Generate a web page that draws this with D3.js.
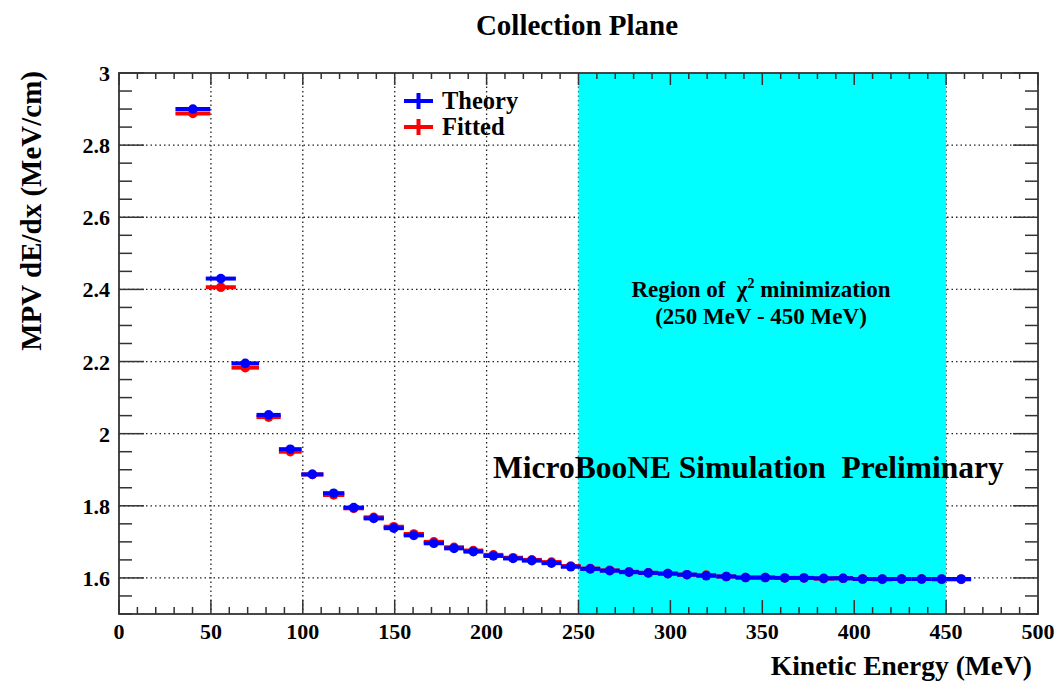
<!DOCTYPE html>
<html>
<head>
<meta charset="utf-8">
<script src="https://cdn.jsdelivr.net/npm/d3@7"></script>
<style>
  body { margin: 0; background: #fff; }
  text { font-family: "Liberation Serif", "DejaVu Serif", serif; font-weight: bold; }
</style>
</head>
<body>
<script>
// bin centres (MeV), half bin widths and the two series
const energy = [40.2, 55.4, 68.7, 81.4, 93.2, 105.2, 116.8, 127.7, 138.6, 149.5,
  160.4, 171.3, 182.3, 192.8, 203.7, 214.4, 224.6, 235.3, 245.8, 256.4,
  267.0, 277.5, 288.0, 298.6, 309.0, 319.5, 330.4, 340.9, 351.6, 362.2,
  372.7, 383.4, 394.0, 404.6, 415.3, 425.8, 436.7, 447.6, 458.2];
const halfWidth = [9.5, 8.2, 7.5, 6.6, 6.2, 6.0, 5.8, 5.6, 5.5, 5.5,
  5.5, 5.5, 5.4, 5.4, 5.4, 5.4, 5.4, 5.4, 5.4, 5.4,
  5.4, 5.4, 5.4, 5.4, 5.4, 5.4, 5.4, 5.4, 5.4, 5.4,
  5.4, 5.4, 5.4, 5.4, 5.4, 5.4, 5.4, 5.4, 5.4];
const theory = [2.900, 2.430, 2.195, 2.052, 1.957, 1.887, 1.835, 1.795, 1.765, 1.738,
  1.718, 1.696, 1.682, 1.673, 1.661, 1.654, 1.648, 1.641, 1.631, 1.625,
  1.620, 1.616, 1.614, 1.612, 1.609, 1.606, 1.604, 1.601, 1.601, 1.600,
  1.600, 1.599, 1.599, 1.597, 1.597, 1.597, 1.597, 1.597, 1.597];
const fitted = [2.888, 2.406, 2.183, 2.046, 1.950, 1.887, 1.830, 1.793, 1.768, 1.742,
  1.722, 1.700, 1.685, 1.676, 1.664, 1.656, 1.650, 1.644, 1.633, 1.626,
  1.621, 1.617, 1.614, 1.612, 1.609, 1.608, 1.604, 1.601, 1.601, 1.600,
  1.600, 1.598, 1.599, 1.597, 1.596, 1.597, 1.597, 1.596, 1.596];
const xTicks = [0, 50, 100, 150, 200, 250, 300, 350, 400, 450, 500];
const yTicks = [1.6, 1.8, 2, 2.2, 2.4, 2.6, 2.8, 3];
const fitRegion = [250, 450];
const seriesNames = ["Theory", "Fitted"];

window.onload = function() {
  drawChart();
}

function drawChart() {
  const w = 1056;
  const h = 681;
  const left = 119, right = 1038, top = 73, bottom = 614;

  let svg = d3.select("body")
    .append("svg")
    .attr("width", w)
    .attr("height", h);

  let xScale = d3.scaleLinear().domain([0, 500]).range([left, right]);
  let yScale = d3.scaleLinear().domain([1.5, 3]).range([bottom, top]);

  // dotted grid
  svg.append("g").selectAll("line")
    .data(xTicks.slice(1, -1))
    .enter().append("line")
    .attr("x1", d => xScale(d)).attr("x2", d => xScale(d))
    .attr("y1", top).attr("y2", bottom)
    .attr("stroke", "#222").attr("stroke-width", 1.3)
    .attr("stroke-dasharray", "1.5,3");
  svg.append("g").selectAll("line")
    .data(yTicks.slice(0, -1))
    .enter().append("line")
    .attr("x1", left).attr("x2", right)
    .attr("y1", d => yScale(d)).attr("y2", d => yScale(d))
    .attr("stroke", "#222").attr("stroke-width", 1.3)
    .attr("stroke-dasharray", "1.5,3");

  // chi2 region
  svg.append("rect")
    .attr("x", xScale(fitRegion[0]))
    .attr("y", top)
    .attr("width", xScale(fitRegion[1]) - xScale(fitRegion[0]))
    .attr("height", bottom - top)
    .attr("fill", "#00ffff");

  // ticks on all four sides like ROOT
  let xMinor = d3.range(0, 501, 10);
  let yMinor = d3.range(1.5, 3.001, 0.05);
  let ticks = svg.append("g").attr("stroke", "#333").attr("stroke-width", 1.5);
  xMinor.forEach(function(v) {
    let len = v % 50 === 0 ? 14 : 7;
    let lenTop = v % 50 === 0 ? 12 : 6;
    ticks.append("line").attr("x1", xScale(v)).attr("x2", xScale(v))
      .attr("y1", bottom).attr("y2", bottom - len);
    ticks.append("line").attr("x1", xScale(v)).attr("x2", xScale(v))
      .attr("y1", top).attr("y2", top + lenTop);
  });
  yMinor.forEach(function(v) {
    let major = Math.abs(v * 5 - Math.round(v * 5)) < 1e-6;
    let len = major ? 25 : 13;
    ticks.append("line").attr("x1", left).attr("x2", left + len)
      .attr("y1", yScale(v)).attr("y2", yScale(v));
    ticks.append("line").attr("x1", right).attr("x2", right - len)
      .attr("y1", yScale(v)).attr("y2", yScale(v));
  });

  svg.append("rect")
    .attr("x", left).attr("y", top)
    .attr("width", right - left).attr("height", bottom - top)
    .attr("fill", "none").attr("stroke", "#333").attr("stroke-width", 1.8);

  // tick labels
  svg.append("g").selectAll("text")
    .data(xTicks)
    .enter().append("text")
    .attr("x", d => xScale(d))
    .attr("y", bottom + 25)
    .attr("text-anchor", "middle")
    .style("font-size", "22px")
    .text(d => d);
  svg.append("g").selectAll("text")
    .data(yTicks)
    .enter().append("text")
    .attr("x", left - 9)
    .attr("y", d => yScale(d) + 8)
    .attr("text-anchor", "end")
    .style("font-size", "22px")
    .text(d => d);

  // data points: fitted first, theory on top
  drawSeries(svg, xScale, yScale, fitted, "#ff0000");
  drawSeries(svg, xScale, yScale, theory, "#0000ff");

  // titles
  svg.append("text")
    .attr("x", 577).attr("y", 35)
    .attr("text-anchor", "middle")
    .style("font-size", "29px")
    .text("Collection Plane");
  svg.append("text")
    .attr("x", right - 6).attr("y", 675)
    .attr("text-anchor", "end")
    .style("font-size", "27.5px")
    .text("Kinetic Energy (MeV)");
  svg.append("text")
    .attr("transform", "translate(41," + (top - 2) + ") rotate(-90)")
    .attr("text-anchor", "end")
    .style("font-size", "29px")
    .text("MPV dE/dx (MeV/cm)");

  // annotations
  let region = svg.append("text")
    .attr("x", 761).attr("y", 297)
    .attr("text-anchor", "middle")
    .attr("xml:space", "preserve")
    .style("font-size", "23px");
  region.append("tspan").text("Region of  \u03c7");
  region.append("tspan").attr("dy", -9).style("font-size", "14px").text("2");
  region.append("tspan").attr("dy", 9).text(" minimization");
  svg.append("text")
    .attr("x", 761).attr("y", 324)
    .attr("text-anchor", "middle")
    .style("font-size", "23px")
    .text("(250 MeV - 450 MeV)");
  svg.append("text")
    .attr("x", 493).attr("y", 478)
    .style("font-size", "31.5px")
    .attr("xml:space", "preserve")
    .text("MicroBooNE Simulation  Preliminary");

  // legend
  let colours = ["#0000ff", "#ff0000"];
  seriesNames.forEach(function(name, i) {
    let cy = 101 + i * 26;
    let g = svg.append("g").attr("stroke", colours[i]).attr("stroke-width", 4);
    g.append("line").attr("x1", 404).attr("x2", 433).attr("y1", cy).attr("y2", cy);
    g.append("line").attr("x1", 418.5).attr("x2", 418.5).attr("y1", cy - 8).attr("y2", cy + 8);
    svg.append("text")
      .attr("x", 442).attr("y", cy + 8)
      .style("font-size", "24.5px")
      .text(name);
  });
}

function drawSeries(svg, xScale, yScale, values, colour) {
  let g = svg.append("g");
  g.selectAll("line")
    .data(values)
    .enter().append("line")
    .attr("x1", (d, i) => xScale(energy[i] - halfWidth[i]))
    .attr("x2", (d, i) => xScale(energy[i] + halfWidth[i]))
    .attr("y1", d => yScale(d))
    .attr("y2", d => yScale(d))
    .attr("stroke", colour)
    .attr("stroke-width", 4);
  g.selectAll("circle")
    .data(values)
    .enter().append("circle")
    .attr("cx", (d, i) => xScale(energy[i]))
    .attr("cy", d => yScale(d))
    .attr("r", 4.8)
    .attr("fill", colour);
}
</script>
</body>
</html>
